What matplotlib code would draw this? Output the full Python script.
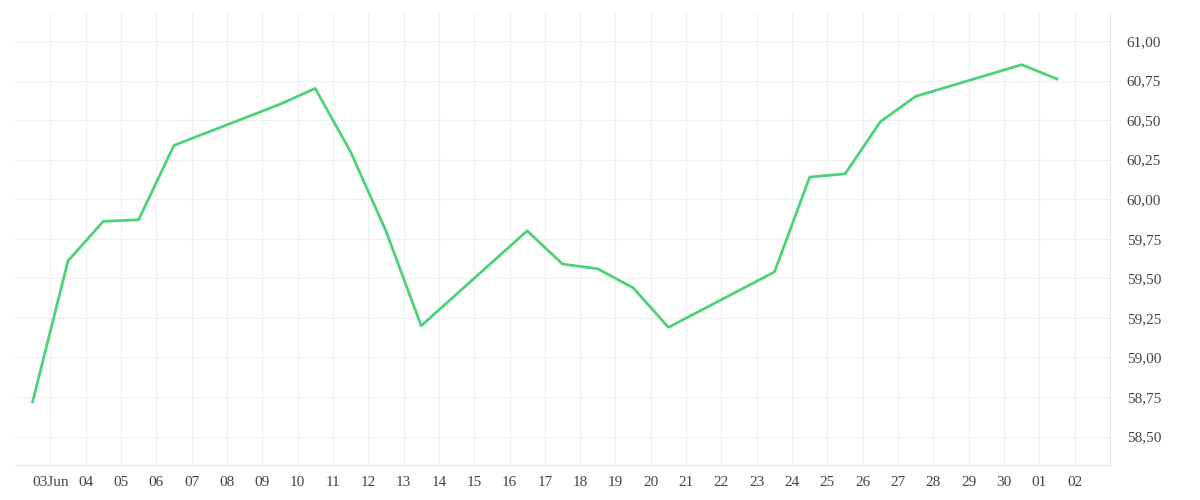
import numpy as np
import matplotlib.pyplot as plt

# day index 0 = 03 Jun; points sit between gridlines
x = [-0.5, 0.5, 1.5, 2.5, 3.5, 6.5, 7.5, 8.5, 9.5, 10.5, 13.5, 14.5, 15.5, 16.5,
     17.5, 20.5, 21.5, 22.5, 23.5, 24.5, 27.5, 28.5]
price = [58.72, 59.61, 59.86, 59.87, 60.34, 60.60, 60.70, 60.30, 59.80, 59.20,
         59.80, 59.59, 59.56, 59.44, 59.19, 59.54, 60.14, 60.16, 60.49, 60.65,
         60.85, 60.76]
tick_labels = ['03Jun'] + ['%02d' % d for d in range(4, 31)] + ['01', '02']
y_ticks = [58.5, 58.75, 59.0, 59.25, 59.5, 59.75, 60.0, 60.25, 60.5, 60.75, 61.0]

plt.rcParams['font.family'] = ['Liberation Serif', 'DejaVu Serif']
fig, ax = plt.subplots(figsize=(12, 5), dpi=100)
fig.subplots_adjust(left=0.0125, right=0.925, top=0.975, bottom=0.07)

ax.plot(x, price, color='#4cd37a', linewidth=2)
ax.set_xlim(-1, 30.0)
ax.set_ylim(58.32, 61.18)
ax.set_xticks(range(len(tick_labels)))
ax.set_xticklabels(tick_labels)
ax.set_yticks(y_ticks)
ax.set_yticklabels([('%.2f' % v).replace('.', ',') for v in y_ticks])
ax.yaxis.tick_right()
ax.grid(True, color='#efefef', linewidth=0.8)
ax.tick_params(length=0, labelsize=11, colors='#444444', pad=8)
for s in ['top', 'left']:
    ax.spines[s].set_visible(False)
ax.spines['right'].set_color('#e6e6e6')
ax.spines['bottom'].set_color('#e6e6e6')
ax.tick_params(axis='y', pad=12)

plt.savefig('out.png')
